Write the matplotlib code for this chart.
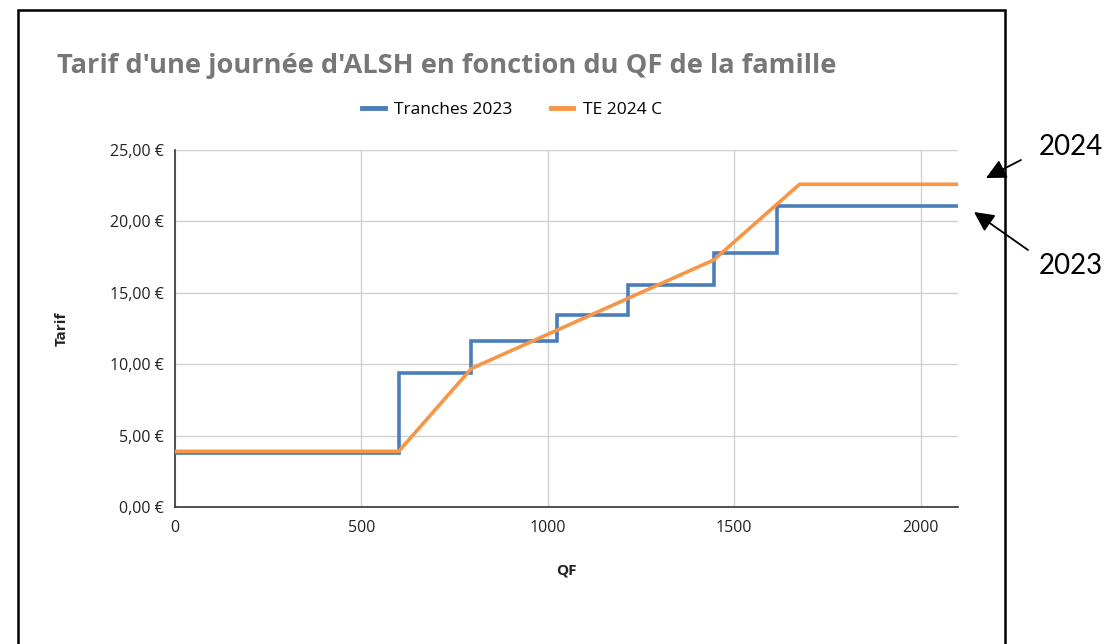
import matplotlib
matplotlib.use("Agg")
import matplotlib.pyplot as plt
from matplotlib.patches import Rectangle, FancyArrowPatch
from matplotlib.ticker import FuncFormatter

# Data
qf_2023 = [0, 600, 600, 795, 795, 1025, 1025, 1215, 1215, 1445, 1445, 1615, 1615, 2100]
tarif_2023 = [3.80, 3.80, 9.40, 9.40, 11.60, 11.60, 13.45, 13.45, 15.55, 15.55, 17.80, 17.80, 21.10, 21.10]
qf_2024 = [0, 600, 795, 1445, 1675, 2100]
tarif_2024 = [3.90, 3.90, 9.70, 17.30, 22.60, 22.60]
series_names = ["Tranches 2023", "TE 2024 C"]
x_ticks = [0, 500, 1000, 1500, 2000]
y_ticks = [0, 5, 10, 15, 20, 25]

title = "Tarif d'une journée d'ALSH en fonction du QF de la famille"

plt.rcParams['font.family'] = ['Open Sans', 'DejaVu Sans']

W, H = 1111, 644
fig = plt.figure(figsize=(W / 100, H / 100), dpi=100)
fig.patch.set_facecolor('white')

ax = fig.add_axes([175 / W, 1 - 507 / H, (958 - 175) / W, (507 - 150) / H])
blue = '#4a7ebb'
orange = '#f79646'
ax.plot(qf_2023, tarif_2023, color=blue, lw=2.6, label=series_names[0], solid_joinstyle='miter', zorder=3)
ax.plot(qf_2024, tarif_2024, color=orange, lw=2.6, label=series_names[1], zorder=4)

ax.set_xlim(0, 2100)
ax.set_ylim(0, 25)
ax.set_xticks(x_ticks)
ax.set_yticks(y_ticks)
ax.yaxis.set_major_formatter(FuncFormatter(lambda v, p: f"{v:.2f}".replace('.', ',') + " €"))
ax.grid(True, color='#d0d0d0', lw=1)
ax.set_axisbelow(True)
for s in ['top', 'right']:
    ax.spines[s].set_visible(False)
for s in ['left', 'bottom']:
    ax.spines[s].set_color('#333333')
    ax.spines[s].set_linewidth(1.2)
ax.tick_params(axis='both', length=0, labelsize=11.5, colors='#222222', pad=8)
ax.tick_params(axis='x', pad=9)

ax.set_xlabel("QF", fontsize=11, fontweight='bold', labelpad=20, color='#222222')
ax.set_ylabel("Tarif", fontsize=11, fontweight='bold', labelpad=30, color='#222222')

fig.text(57 / W, 1 - 66 / H, title, fontsize=19.6, fontweight='bold', color='#777777',
         ha='left', va='center')

leg = fig.legend(loc='center', bbox_to_anchor=(512 / W, 1 - 110 / H), ncol=2, frameon=False,
                 fontsize=12.5, handlelength=1.3, columnspacing=2.2, handletextpad=0.55)
for line in leg.get_lines():
    line.set_linewidth(3.5)

# Border
fig.patches.append(Rectangle((18 / W, -0.05), (1005 - 18) / W, 1.05 - 10 / H,
                             transform=fig.transFigure, fill=False, edgecolor='black', lw=1.8))

# Annotations
fig.text(1071 / W, 1 - 147 / H, "2024", fontsize=20, ha='center', va='center', color='black',
         family=['Lato', 'DejaVu Sans'], fontweight='normal')
fig.text(1071 / W, 1 - 266 / H, "2023", fontsize=20, ha='center', va='center', color='black',
         family=['Lato', 'DejaVu Sans'], fontweight='normal')
arrow_kw = dict(arrowstyle='-|>,head_length=1.0,head_width=0.5', color='black', lw=1.3)
fig.add_artist(FancyArrowPatch((1021 / W, 1 - 160 / H), (986 / W, 1 - 178 / H),
                               transform=fig.transFigure, mutation_scale=12,
                               shrinkA=0, shrinkB=0, **arrow_kw))
fig.add_artist(FancyArrowPatch((1028 / W, 1 - 250 / H), (974 / W, 1 - 212 / H),
                               transform=fig.transFigure, mutation_scale=12,
                               shrinkA=0, shrinkB=0, **arrow_kw))

fig.savefig("out.png", dpi=100)
